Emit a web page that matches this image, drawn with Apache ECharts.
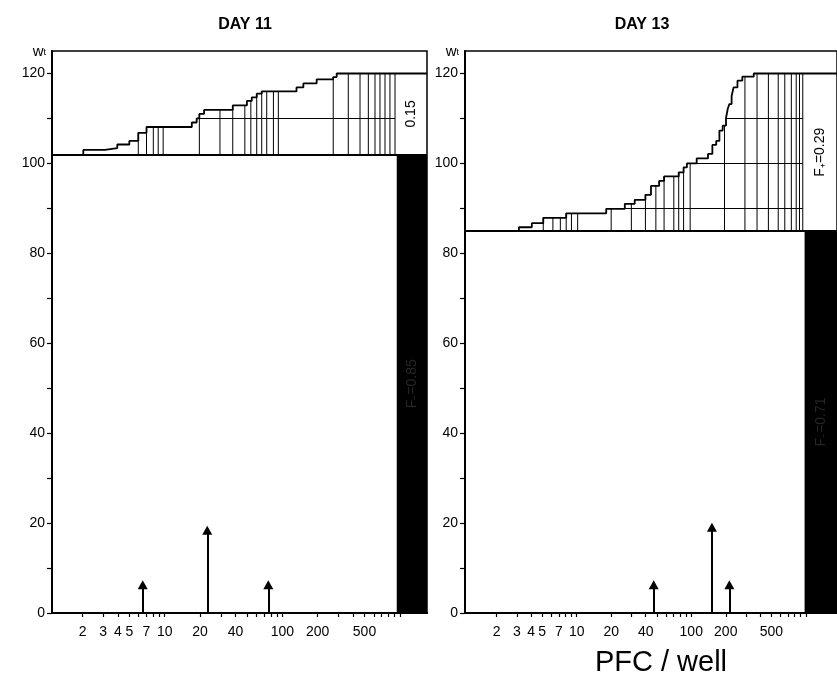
<!DOCTYPE html>
<html>
<head>
<meta charset="utf-8">
<script src="https://cdn.jsdelivr.net/npm/echarts@6/dist/echarts.min.js"></script>
<style>
html, body { margin: 0; padding: 0; background: #fff; }
#main { width: 837px; height: 681px; }
</style>
</head>
<body>
<div id="main"></div>
<script>
// axis ticks / labels
var xLabels = [2, 3, 4, 5, 7, 10, 20, 40, 100, 200, 500];
var xTicks = [2, 3, 4, 5, 6, 7, 8, 9, 10, 20, 30, 40, 50, 60, 70, 80, 90, 100, 200, 300, 400, 500, 600, 700, 800, 900, 1000];
var yLabels = [0, 20, 40, 60, 80, 100, 120];
var yTicks = [0, 10, 20, 30, 40, 50, 60, 70, 80, 90, 100, 110, 120];

// DAY 11
var day11Base = 102;
var day11StepX = [2.03, 3.1, 3.95, 5.0, 5.96, 7.0, 17, 18.7, 19.7, 21.6, 37.9, 50, 55, 60.6, 66.8, 132, 151, 196, 271, 290];
var day11StepW = [103.0, 103.4, 104.2, 105.0, 106.8, 108.1, 109.1, 110.0, 111.0, 111.9, 112.9, 113.9, 114.7, 115.5, 116.0, 116.9, 117.8, 118.7, 119.2, 120];
var day11StemX = [5.96, 7.0, 8.0, 8.8, 9.7, 19.7, 29.5, 37.9, 48, 54, 60.6, 66.8, 73.7, 84, 92.5, 271, 364, 458, 539, 614, 677, 747, 823, 909];
var day11Levels = [110];
var day11ArrowX = [6.5, 23, 76];
var day11ArrowH = [6.3, 18.4, 6.3];
var day11BlackFrom = 940;
var day11FPos = '0.15';
var day11FNeg = 'F₋=0.85';

// DAY 13
var day13Base = 85;
var day13StepX = [3.13, 4.06, 5.11, 8.1, 18.1, 26.3, 32.1, 39.8, 44.5, 52.4, 57.9, 77.7, 85.7, 91.6, 111.5, 140, 152.8, 165, 176, 188, 201, 208, 215, 225, 234, 253, 279, 351];
var day13StepW = [85.8, 86.7, 87.9, 88.9, 89.9, 91.0, 91.9, 93.0, 95.0, 96.1, 97.1, 98.0, 99.1, 100.0, 101.1, 102.1, 104.1, 105.0, 107.3, 108.4, 110.1, 112.1, 113.2, 115.0, 116.9, 118.4, 119.3, 120];
var day13StemX = [5.11, 6.2, 7.2, 8.1, 9.0, 10.2, 20, 30, 39.8, 49.1, 57.9, 70.4, 77.7, 85.7, 97.8, 195, 294, 375, 471, 574, 655, 747, 824, 880, 940];
var day13Levels = [90, 100, 110];
var day13ArrowX = [47, 151.5, 215];
var day13ArrowH = [6.3, 19.1, 6.3];
var day13BlackFrom = 975;
var day13FPos = 'F₊=0.29';
var day13FNeg = 'F₋=0.71';

var font = "'Liberation Sans', Arial, Helvetica, sans-serif";

var panels = [
    { left: 52, width: 375, min: 1.1, max: 1700, base: day11Base, stepX: day11StepX, stepW: day11StepW,
      stemX: day11StemX, levels: day11Levels, arrowX: day11ArrowX, arrowH: day11ArrowH,
      blackFrom: day11BlackFrom, fPos: day11FPos, fNeg: day11FNeg },
    { left: 465, width: 380, min: 1.06, max: 1870, base: day13Base, stepX: day13StepX, stepW: day13StepW,
      stemX: day13StemX, levels: day13Levels, arrowX: day13ArrowX, arrowH: day13ArrowH,
      blackFrom: day13BlackFrom, fPos: day13FPos, fNeg: day13FNeg }
];

// curve value at x (last step at or before x)
function valueAt(p, x) {
    var w = p.base;
    for (var i = 0; i < p.stepX.length; i++) {
        if (p.stepX[i] <= x + 1e-9) w = p.stepW[i];
    }
    return w;
}

var grids = [], xAxes = [], yAxes = [], series = [];

panels.forEach(function(p, k) {
    grids.push({ left: p.left, top: 51, width: p.width, height: 562, show: true, borderColor: '#000', borderWidth: 1.5 });

    xAxes.push({
        type: 'log', gridIndex: k, min: p.min, max: p.max, logBase: 10,
        axisLine: { show: true, lineStyle: { color: '#000', width: 2 } },
        axisTick: { show: true, customValues: xTicks, length: 4, lineStyle: { color: '#000', width: 1.2 } },
        axisLabel: { customValues: xLabels, color: '#000', fontSize: 14, margin: 12, fontFamily: font },
        splitLine: { show: false }, minorTick: { show: false }
    });

    yAxes.push({
        type: 'value', gridIndex: k, min: 0, max: 125,
        name: 'w{t|t}', nameLocation: 'end', nameGap: -8,
        nameTextStyle: { color: '#000', fontSize: 15, fontFamily: font, align: 'right', verticalAlign: 'bottom', padding: [0, 6, 0, 0],
            rich: { t: { fontSize: 9, fontFamily: font, color: '#000', padding: [0, 0, -3, 0] } } },
        axisLine: { show: true, lineStyle: { color: '#000', width: 2 } },
        axisTick: { show: true, customValues: yTicks, length: 5, lineStyle: { color: '#000', width: 1.2 } },
        axisLabel: { customValues: yLabels, color: '#000', fontSize: 14, margin: 7, fontFamily: font },
        splitLine: { show: false }
    });

    var curve = [[p.stepX[0], p.base]];
    p.stepX.forEach(function(x, i) { curve.push([x, p.stepW[i]]); });
    curve.push([p.max, p.stepW[p.stepW.length - 1]]);

    var lastStem = p.stemX[p.stemX.length - 1];
    var marks = [{ yAxis: p.base, lineStyle: { width: 1.8 } }];
    p.levels.forEach(function(L) {
        var start = null;
        for (var i = 0; i < p.stepX.length; i++) {
            if (p.stepW[i] >= L - 0.2) { start = p.stepX[i]; break; }
        }
        marks.push([{ coord: [start, L], lineStyle: { width: 1 } }, { coord: [lastStem, L] }]);
    });
    p.arrowX.forEach(function(x, i) {
        marks.push([
            { coord: [x, 0], symbol: 'none', lineStyle: { width: 2 } },
            { coord: [x, p.arrowH[i]], symbol: 'triangle', symbolSize: [10, 9] }
        ]);
    });

    series.push({
        type: 'line', xAxisIndex: k, yAxisIndex: k, step: 'end', symbol: 'none', silent: true,
        lineStyle: { color: '#000', width: 1.8 },
        data: curve,
        markLine: {
            silent: true, symbol: ['none', 'none'], label: { show: false },
            lineStyle: { color: '#000', type: 'solid', width: 1.5 },
            data: marks
        },
        markArea: {
            silent: true,
            data: [
                [{ coord: [p.blackFrom, 0], itemStyle: { color: '#000' },
                   label: { show: true, position: 'inside', rotate: 90, formatter: p.fNeg, color: '#262626', fontSize: 14, fontFamily: font } },
                 { coord: [p.max, p.base] }],
                [{ coord: [lastStem, p.base], itemStyle: { color: 'rgba(0,0,0,0)' },
                   label: { show: true, position: 'inside', rotate: 90, formatter: p.fPos, color: '#000', fontSize: 14, fontFamily: font } },
                 { coord: [p.max, 120] }]
            ]
        }
    });

    series.push({
        type: 'custom', xAxisIndex: k, yAxisIndex: k, silent: true,
        data: p.stemX.map(function(x) { return [x, valueAt(p, x)]; }),
        renderItem: function(params, api) {
            var top = api.coord([api.value(0), api.value(1)]);
            var bot = api.coord([api.value(0), p.base]);
            return {
                type: 'line',
                shape: { x1: top[0], y1: top[1], x2: bot[0], y2: bot[1] },
                style: { stroke: '#000', lineWidth: 1 }
            };
        }
    });
});

var chart = echarts.init(document.getElementById('main'));
chart.setOption({
    animation: false,
    backgroundColor: '#fff',
    title: [
        { text: 'DAY 11', left: 240, top: 12, textAlign: 'center', textStyle: { color: '#000', fontSize: 16, fontWeight: 'bold', fontFamily: font } },
        { text: 'DAY 13', left: 637, top: 12, textAlign: 'center', textStyle: { color: '#000', fontSize: 16, fontWeight: 'bold', fontFamily: font } },
        { text: 'PFC / well', left: 656, top: 643, textAlign: 'center', textStyle: { color: '#000', fontSize: 29, fontWeight: 'normal', fontFamily: font } }
    ],
    grid: grids,
    xAxis: xAxes,
    yAxis: yAxes,
    series: series
});
</script>
</body>
</html>
